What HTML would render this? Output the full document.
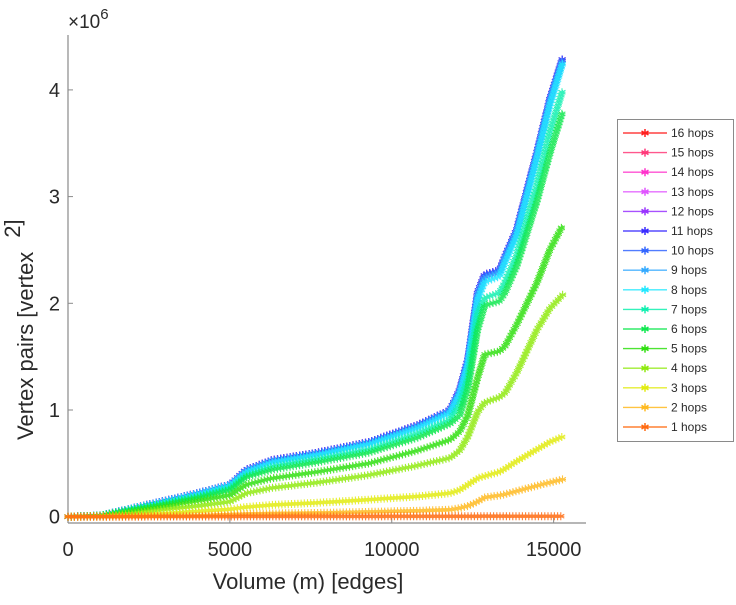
<!DOCTYPE html>
<html><head><meta charset="utf-8">
<style>
html,body{margin:0;padding:0;background:#fff;}
svg text{font-family:"Liberation Sans",sans-serif;fill:#2a2a2a;}
</style></head>
<body>
<svg id="chart" width="736" height="600" viewBox="0 0 736 600" xmlns="http://www.w3.org/2000/svg">
<g id="axes"></g>
<g id="series"></g>
<g id="legend"></g>
<text x="68" y="28" font-size="19">×10<tspan dy="-9" font-size="15">6</tspan></text>
<text x="308" y="589" font-size="22" text-anchor="middle">Volume (m) [edges]</text>
<text transform="translate(33,440) rotate(-90)" font-size="22" x="0" y="0">Vertex pairs [vertex<tspan dx="14" dy="-13">2]</tspan></text>
</svg>
<script>
const volumes = [0,1000,2000,3000,4000,5000,5500,6300,7700,9300,10800,11800,12100,12350,12650,12870,13330,13500,13860,14480,14880,15280];
const hops1  = [0,0.001,0.001,0.002,0.002,0.002,0.003,0.003,0.003,0.003,0.004,0.004,0.004,0.004,0.004,0.005,0.005,0.005,0.005,0.005,0.005,0.005];
const hops2  = [0,0,0.002,0.006,0.01,0.02,0.025,0.03,0.035,0.045,0.055,0.065,0.08,0.1,0.14,0.18,0.2,0.21,0.24,0.29,0.32,0.35];
const hops3  = [0,0.003,0.01,0.03,0.05,0.07,0.09,0.11,0.13,0.16,0.19,0.22,0.25,0.3,0.36,0.38,0.42,0.45,0.52,0.63,0.7,0.75];
const hops4  = [0,0.005,0.03,0.07,0.1,0.14,0.22,0.27,0.32,0.39,0.48,0.55,0.62,0.75,0.98,1.07,1.12,1.16,1.35,1.75,1.95,2.08];
const hops5  = [0,0.008,0.05,0.1,0.15,0.2,0.3,0.36,0.42,0.5,0.62,0.72,0.8,0.95,1.3,1.52,1.55,1.6,1.8,2.19,2.5,2.73];
const hops6  = [0,0.01,0.07,0.12,0.18,0.25,0.37,0.44,0.51,0.6,0.74,0.87,0.95,1.2,1.75,1.98,2.02,2.1,2.35,2.95,3.4,3.8];
const hops7  = [0,0.01,0.07,0.13,0.19,0.27,0.39,0.47,0.54,0.63,0.78,0.91,1.05,1.3,1.9,2.05,2.1,2.2,2.45,3.1,3.6,4.0];
const hops8  = [0,0.01,0.08,0.14,0.21,0.29,0.42,0.51,0.58,0.68,0.83,0.97,1.15,1.42,2.03,2.2,2.25,2.38,2.63,3.35,3.85,4.25];
const hops9  = [0,0.01,0.08,0.15,0.22,0.3,0.43,0.52,0.59,0.69,0.85,0.99,1.17,1.45,2.07,2.24,2.29,2.42,2.67,3.39,3.89,4.28];
const hops10 = [0,0.01,0.08,0.15,0.22,0.3,0.44,0.53,0.6,0.7,0.86,1.0,1.19,1.47,2.1,2.27,2.31,2.44,2.69,3.41,3.91,4.3];
const hops11 = [0,0.01,0.08,0.15,0.22,0.3,0.44,0.53,0.6,0.7,0.86,1.0,1.19,1.47,2.1,2.27,2.31,2.44,2.69,3.41,3.91,4.3];
const hops12 = [0,0.01,0.08,0.15,0.22,0.3,0.44,0.53,0.6,0.7,0.86,1.0,1.19,1.47,2.1,2.27,2.31,2.44,2.69,3.41,3.91,4.3];
const hops13 = [0,0.01,0.08,0.15,0.22,0.3,0.44,0.53,0.6,0.7,0.86,1.0,1.19,1.47,2.1,2.27,2.31,2.44,2.69,3.41,3.91,4.3];
const hops14 = [0,0.01,0.08,0.15,0.22,0.3,0.44,0.53,0.6,0.7,0.86,1.0,1.19,1.47,2.1,2.27,2.31,2.44,2.69,3.41,3.91,4.3];
const hops15 = [0,0.01,0.08,0.15,0.22,0.3,0.44,0.53,0.6,0.7,0.86,1.0,1.19,1.47,2.1,2.27,2.31,2.44,2.69,3.41,3.91,4.3];
const hops16 = [0,0.01,0.08,0.15,0.22,0.3,0.44,0.53,0.6,0.7,0.86,1.0,1.19,1.47,2.1,2.27,2.31,2.44,2.69,3.41,3.91,4.3];
const seriesLabels = ["16 hops","15 hops","14 hops","13 hops","12 hops","11 hops","10 hops","9 hops","8 hops","7 hops","6 hops","5 hops","4 hops","3 hops","2 hops","1 hops"];
const seriesValues = [hops16,hops15,hops14,hops13,hops12,hops11,hops10,hops9,hops8,hops7,hops6,hops5,hops4,hops3,hops2,hops1];
const seriesColors = ["#ff2020","#ff3a7a","#ff33cc","#e055ff","#9933ff","#3a2cff","#3366ff","#33aaff","#22e8ff","#10f0b0","#10e850","#30e010","#90ea10","#e2ec10","#ffba20","#ff6a10"];
const xTicks = [0,5000,10000,15000];
const yTicks = [0,1,2,3,4];

const NS = "http://www.w3.org/2000/svg";
const X0 = 68, X1 = 586, XMAX = 16000;
const Y0 = 516.7, PER = 106.7;
function xs(v){ return X0 + (X1 - X0) * v / XMAX; }
function ys(v){ return Y0 - v * PER; }
function mk(tag, attrs, parent){ const e = document.createElementNS(NS, tag); for (const k in attrs) e.setAttribute(k, attrs[k]); parent.appendChild(e); return e; }
function starPath(x, y, r){
  let d = "";
  for (let a = 0; a < 3; a++){ const t = a * Math.PI / 3 + Math.PI/2; const dx = r*Math.cos(t), dy = r*Math.sin(t); d += `M${(x-dx).toFixed(1)} ${(y-dy).toFixed(1)}L${(x+dx).toFixed(1)} ${(y+dy).toFixed(1)}`; }
  d += `M${(x-r*0.87).toFixed(1)} ${y.toFixed(1)}L${(x+r*0.87).toFixed(1)} ${y.toFixed(1)}`;
  return d;
}

const axes = document.getElementById("axes");
const yAxis = mk("line", {x1:X0, y1:35, x2:X0, y2:523, stroke:"#8a8a8a", "stroke-width":1.2}, axes);


const xAxis = mk("line", {x1:X0, y1:523, x2:X1, y2:523, stroke:"#8a8a8a", "stroke-width":1.2}, axes);


xTicks.forEach(t => {
  const tk = mk("line", {x1:xs(t), y1:523, x2:xs(t), y2:518, stroke:"#8a8a8a"}, axes);
  
  
  const lb = mk("text", {x:xs(t), y:556, "font-size":20, "text-anchor":"middle"}, axes);
  lb.textContent = t;
  
  
});
yTicks.forEach(t => {
  const tk = mk("line", {x1:X0, y1:ys(t), x2:X0+5, y2:ys(t), stroke:"#8a8a8a"}, axes);
  
  
  const lb = mk("text", {x:X0-8, y:ys(t)+7, "font-size":20, "text-anchor":"end"}, axes);
  lb.textContent = t;
  
  
});

const sg = document.getElementById("series");
for (let s = 0; s < seriesValues.length; s++){
  const vals = seriesValues[s], col = seriesColors[s];
  const pts = volumes.map((v,i) => [xs(v), ys(vals[i])]);
  const g = mk("g", {opacity:0.85}, sg);
  
  
  const line = mk("polyline", {points: pts.map(p => p[0].toFixed(1)+","+p[1].toFixed(1)).join(" "), fill:"none", stroke:col, "stroke-width":1.2}, g);
  
  
  let d = "";
  const step = 3.2;
  let carry = 0;
  for (let i = 0; i < pts.length - 1; i++){
    const [ax, ay] = pts[i], [bx, by] = pts[i+1];
    const len = Math.hypot(bx-ax, by-ay);
    let t = carry;
    while (t <= len){ const f = len ? t/len : 0; d += starPath(ax + (bx-ax)*f, ay + (by-ay)*f, 4); t += step; }
    carry = t - len;
  }
  const m = mk("path", {d:d, stroke:col, "stroke-width":1.1, fill:"none"}, g);
  
  
}

const lg = document.getElementById("legend");
const box = mk("rect", {x:617.5, y:119.5, width:116, height:322, fill:"#fff", stroke:"#8a8a8a", "stroke-width":1}, lg);


seriesLabels.forEach((lab, i) => {
  const y = 133 + i * 19.6;
  const col = seriesColors[i];
  const e = mk("g", {}, lg);
  
  
  mk("line", {x1:623, y1:y, x2:667, y2:y, stroke:col, "stroke-width":1.4, opacity:0.85}, e);
  mk("path", {d:starPath(645, y, 4), stroke:col, "stroke-width":1.5, fill:"none"}, e);
  const tx = mk("text", {x:671, y:y+4, "font-size":12}, e);
  tx.textContent = lab;
});
</script>
</body></html>
